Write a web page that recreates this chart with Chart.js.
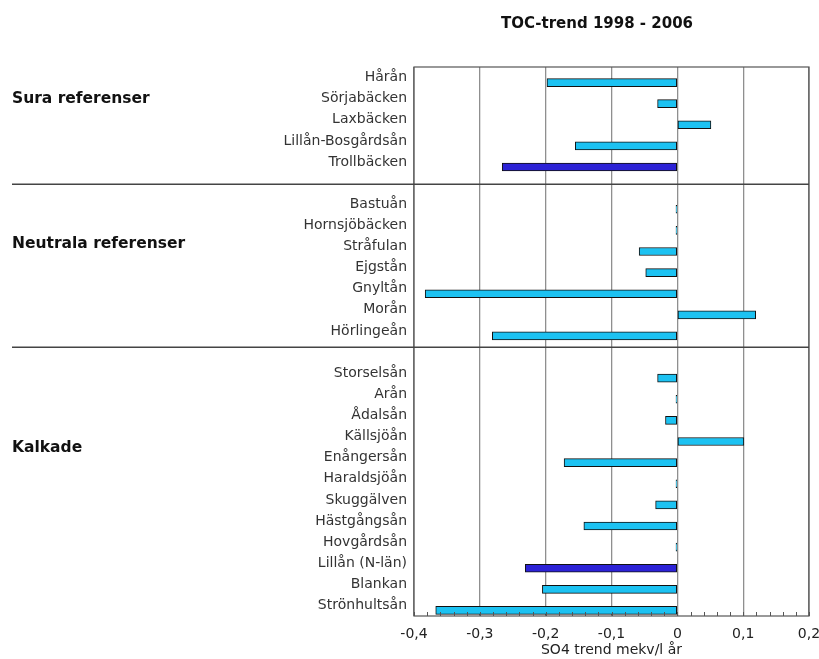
<!DOCTYPE html>
<html>
<head>
<meta charset="utf-8">
<script src="https://cdn.jsdelivr.net/npm/chart.js@4"></script>
<style>
  html, body { margin: 0; padding: 0; background: #fff; }
  canvas { display: block; }
</style>
</head>
<body>
<canvas id="chart" width="819" height="659"></canvas>
<script>
// Streams, top to bottom; empty strings are spacer rows between the groups
const categories = [
  'Hårån', 'Sörjabäcken', 'Laxbäcken', 'Lillån-Bosgårdsån', 'Trollbäcken', '',
  'Bastuån', 'Hornsjöbäcken', 'Stråfulan', 'Ejgstån', 'Gnyltån', 'Morån', 'Hörlingeån', '',
  'Storselsån', 'Arån', 'Ådalsån', 'Källsjöån', 'Enångersån', 'Haraldsjöån', 'Skuggälven',
  'Hästgångsån', 'Hovgårdsån', 'Lillån (N-län)', 'Blankan', 'Strönhultsån'
];

// SO4 trend, mekv/l per year
const trend = [
  -0.198, -0.030, 0.051, -0.155, -0.266, null,
  -0.002, -0.002, -0.058, -0.048, -0.383, 0.119, -0.281, null,
  -0.030, -0.002, -0.018, 0.101, -0.172, -0.002, -0.033,
  -0.142, -0.002, -0.231, -0.205, -0.367
];

// Streams drawn in the darker colour
const highlighted = ['Trollbäcken', 'Lillån (N-län)'];

// Group headings shown left of the stream names
const groups = ['Sura referenser', 'Neutrala referenser', 'Kalkade'];

// Labelled x ticks
const xTicks = [-0.4, -0.3, -0.2, -0.1, 0, 0.1, 0.2];

const chartTitle = 'TOC-trend 1998 - 2006';
const xTitle = 'SO4 trend mekv/l år';

const FONT = "'DejaVu Sans', 'Liberation Sans', Arial, sans-serif";
const TEXT = '#222';

const isLabelled = v => xTicks.some(t => Math.abs(t - v) < 1e-6);
const fmt = v => String(Math.round(v * 10) / 10).replace('.', ',');

const decorations = {
  id: 'decorations',
  beforeDatasetsDraw(chart) {
    chart.ctx.save();
    chart.ctx.translate(0, 5);
  },
  afterDatasetsDraw(chart) {
    chart.ctx.restore();
  },
  afterDraw(chart, args, opts) {
    const { ctx, chartArea: a, scales: { x, y } } = chart;
    ctx.save();

    // plot frame
    ctx.strokeStyle = '#555';
    ctx.lineWidth = 1.2;
    ctx.strokeRect(a.left, a.top, a.right - a.left, a.bottom - a.top);

    // small inward ticks along the bottom edge
    ctx.lineWidth = 1;
    ctx.beginPath();
    x.ticks.forEach(t => {
      const px = Math.round(x.getPixelForValue(t.value)) + 0.5;
      ctx.moveTo(px, a.bottom);
      ctx.lineTo(px, a.bottom - 4);
    });
    ctx.stroke();

    // group separators
    ctx.strokeStyle = '#444';
    ctx.lineWidth = 1.5;
    opts.separators.forEach(s => {
      const py = y.getPixelForValue(s);
      ctx.beginPath();
      ctx.moveTo(opts.groupX, py);
      ctx.lineTo(a.right, py);
      ctx.stroke();
    });

    // group headings
    ctx.fillStyle = '#111';
    ctx.font = 'bold 15.5px ' + FONT;
    ctx.textAlign = 'left';
    ctx.textBaseline = 'middle';
    groups.forEach((g, i) => {
      ctx.fillText(g, opts.groupX, y.getPixelForValue(opts.groupRows[i]));
    });

    // chart title
    ctx.font = 'bold 15px ' + FONT;
    ctx.textAlign = 'center';
    ctx.fillText(chartTitle, opts.titleX, opts.titleY);

    ctx.restore();
  }
};

new Chart(document.getElementById('chart'), {
  type: 'bar',
  data: {
    labels: categories,
    datasets: [{
      data: trend,
      backgroundColor: categories.map(c => highlighted.includes(c) ? '#2c22d6' : '#1cc2f2'),
      borderColor: '#111',
      borderWidth: 1,
      borderSkipped: false,
      barThickness: 8,
      clip: false
    }]
  },
  options: {
    indexAxis: 'y',
    responsive: false,
    animation: false,
    devicePixelRatio: 1,
    layout: { padding: { top: 67, right: 10, left: 0, bottom: 0 } },
    plugins: {
      legend: { display: false },
      tooltip: { enabled: false },
      title: { display: false },
      decorations: {
        separators: [5.05, 12.77],
        groupRows: [1.02, 7.9, 17.56],
        groupX: 12,
        titleX: 597,
        titleY: 24
      }
    },
    scales: {
      x: {
        type: 'linear',
        min: -0.4,
        max: 0.2,
        afterBuildTicks(scale) {
          const ticks = [];
          for (let i = -20; i <= 10; i++) ticks.push({ value: Math.round(i * 2) / 100 });
          scale.ticks = ticks;
        },
        afterFit(scale) {
          scale.height = 43;
          scale.paddingLeft = 0;
          scale.paddingRight = 0;
        },
        grid: {
          color: c => (c.tick && isLabelled(c.tick.value)) ? '#8f8f8f' : 'rgba(0,0,0,0)',
          lineWidth: 1.3,
          drawTicks: false
        },
        border: { display: false },
        ticks: {
          autoSkip: false,
          maxRotation: 0,
          padding: 10,
          color: TEXT,
          font: { family: FONT, size: 14 },
          callback: v => isLabelled(v) ? fmt(v) : ''
        },
        title: {
          display: true,
          text: xTitle,
          color: TEXT,
          font: { family: FONT, size: 14 },
          padding: { top: 0, bottom: 0 }
        }
      },
      y: {
        afterFit(scale) { scale.width = 414; },
        grid: { display: false, drawTicks: false },
        border: { display: false },
        ticks: {
          autoSkip: false,
          padding: 7,
          color: '#333',
          font: { family: FONT, size: 14 }
        }
      }
    }
  },
  plugins: [decorations]
});
</script>
</body>
</html>
